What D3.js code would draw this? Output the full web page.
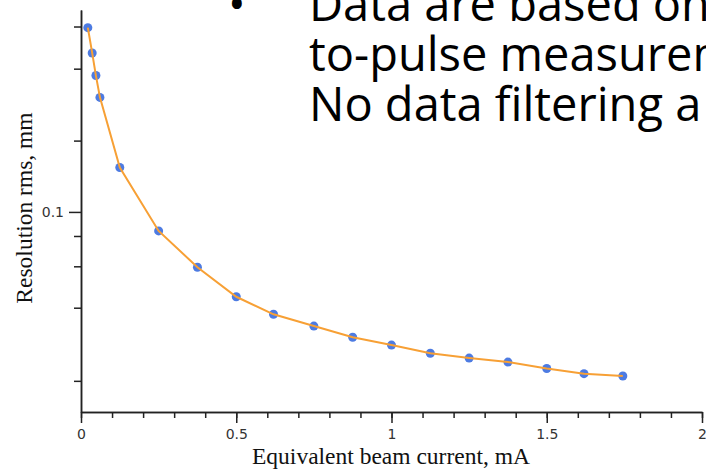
<!DOCTYPE html>
<html>
<head>
<meta charset="utf-8">
<script src="https://cdn.jsdelivr.net/npm/d3@7/dist/d3.min.js"></script>
<style>
  body { margin: 0; background: #fff; }
  svg { display: block; }
  .tick text { font-family: "DejaVu Sans", sans-serif; font-size: 14px; fill: #333; }
</style>
</head>
<body>
<div id="chart"></div>
<script>
// beam current (mA) vs resolution rms (mm)
var currents = [0.022, 0.036, 0.048, 0.061, 0.125, 0.25, 0.375, 0.5, 0.62, 0.75, 0.875, 1.0,
    1.125, 1.25, 1.375, 1.5, 1.62, 1.745];
var resolutions = [0.213, 0.192, 0.175, 0.160, 0.120, 0.0925, 0.0797, 0.0706, 0.0657, 0.0626,
    0.0598, 0.0579, 0.0560, 0.0549, 0.0540, 0.0526, 0.0515, 0.0510];

var xMajorTicks = [0, 0.5, 1, 1.5, 2];
var xMinorTicks = d3.range(0, 2.001, 0.1);
var yMajorTicks = [0.1];
var yMinorTicks = [0.214, 0.18, 0.134, 0.0906, 0.08, 0.0675, 0.05];

var slideLines = ["Data are based on", "to-pulse measuremen", "No data filtering a"];

//=================== LAYOUT ====================================
var svgWidth = 706,
    svgHeight = 470;
var plotLeft = 81,
    plotRight = 702,
    plotTop = 10,
    plotBottom = 412;

var svg = d3.select("#chart")
    .append("svg")
    .attr("width", svgWidth)
    .attr("height", svgHeight);

var xScale = d3.scaleLinear()
    .domain([0, 2])
    .range([plotLeft, plotRight]);

var yScale = d3.scaleLog()
    .domain([0.044, 0.229])
    .range([plotBottom, plotTop]);

//=================== AXES ====================================
// x axis: minor ticks every 0.1, longer labelled ticks every 0.5
svg.append("g")
    .attr("class", "x-minor")
    .attr("transform", "translate(0," + plotBottom + ")")
    .call(d3.axisBottom(xScale).tickValues(xMinorTicks).tickSize(6).tickFormat("").tickSizeOuter(0));

svg.append("g")
    .attr("class", "x-major")
    .attr("transform", "translate(0," + plotBottom + ")")
    .call(d3.axisBottom(xScale).tickValues(xMajorTicks).tickSize(11).tickPadding(6)
        .tickFormat(d3.format("")).tickSizeOuter(0))
    .attr("font-size", 14)
    .attr("font-family", "DejaVu Sans, sans-serif");

// y axis (log)
svg.append("g")
    .attr("class", "y-minor")
    .attr("transform", "translate(" + plotLeft + ",0)")
    .call(d3.axisLeft(yScale).tickValues(yMinorTicks).tickSize(7).tickFormat("").tickSizeOuter(0));

svg.append("g")
    .attr("class", "y-major")
    .attr("transform", "translate(" + plotLeft + ",0)")
    .call(d3.axisLeft(yScale).tickValues(yMajorTicks).tickSize(12).tickPadding(5)
        .tickFormat(d3.format("")).tickSizeOuter(0))
    .attr("font-size", 14)
    .attr("font-family", "DejaVu Sans, sans-serif");

svg.selectAll(".domain")
    .attr("stroke", "#222")
    .attr("stroke-width", 1.5);
svg.selectAll(".tick line")
    .attr("stroke", "#222")
    .attr("stroke-width", 1.5);

// axis titles
svg.append("text")
    .attr("x", 391)
    .attr("y", 464)
    .attr("text-anchor", "middle")
    .style("font-family", "Liberation Serif, serif")
    .style("font-size", "23.5px")
    .attr("fill", "#111")
    .text("Equivalent beam current, mA");

svg.append("text")
    .attr("transform", "translate(32,208) rotate(-90)")
    .attr("text-anchor", "middle")
    .style("font-family", "Liberation Serif, serif")
    .style("font-size", "23.5px")
    .attr("fill", "#111")
    .text("Resolution rms, mm");

//=================== DATA ====================================
var points = currents.map(function (c, i) { return { x: c, y: resolutions[i] }; });

// dots first, the line sits on top of them
svg.append("g")
    .selectAll("circle")
    .data(points)
    .enter()
    .append("circle")
    .attr("cx", function (d) { return xScale(d.x); })
    .attr("cy", function (d) { return yScale(d.y); })
    .attr("r", 4.5)
    .attr("fill", "#4d7be2");

var lineGenerator = d3.line()
    .x(function (d) { return xScale(d.x); })
    .y(function (d) { return yScale(d.y); });

svg.append("path")
    .datum(points)
    .attr("d", lineGenerator)
    .attr("fill", "none")
    .attr("stroke", "#f7a035")
    .attr("stroke-width", 2);

//=================== SLIDE TEXT ====================================
svg.append("text")
    .attr("x", 228)
    .attr("y", 21)
    .style("font-family", "Open Sans, sans-serif")
    .style("font-size", "47px")
    .attr("fill", "#000")
    .text("\u2022");

svg.append("g")
    .selectAll("text")
    .data(slideLines)
    .enter()
    .append("text")
    .attr("x", 309)
    .attr("y", function (d, i) { return 21 + i * 50; })
    .style("font-family", "Open Sans, sans-serif")
    .style("font-size", "47px")
    .attr("fill", "#000")
    .text(function (d) { return d; });
</script>
</body>
</html>
